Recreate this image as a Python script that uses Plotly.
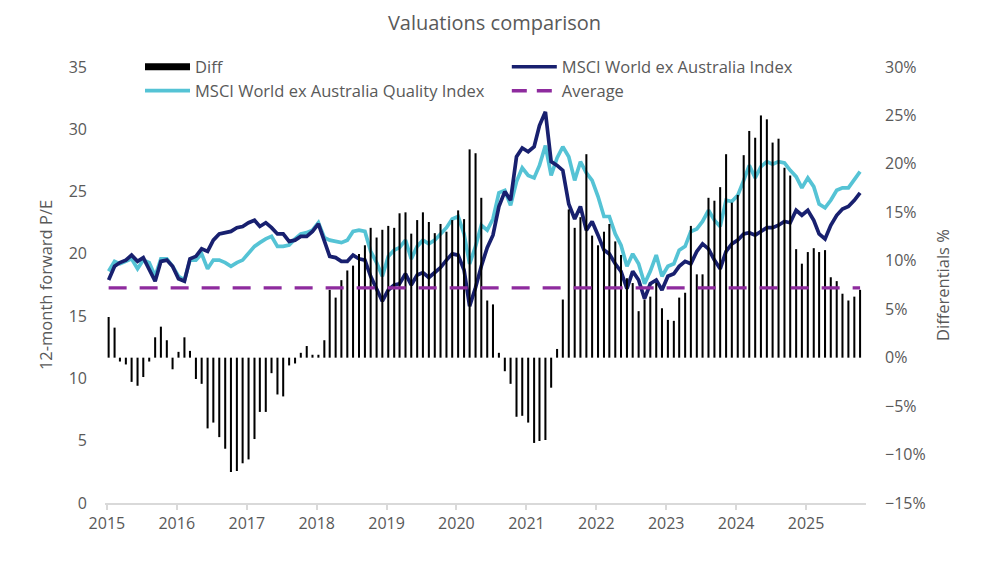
import pandas as pd
import plotly.graph_objects as go

MONTHS = pd.date_range("2015-01-01", periods=130, freq="MS") + pd.Timedelta(days=9)

MSCI_WORLD = [
    17.9, 19.0, 19.3, 19.5, 19.9, 19.4, 19.7, 18.8, 17.8, 19.4, 19.5, 19.0,
    18.0, 17.8, 19.6, 19.8, 20.4, 20.2, 21.1, 21.6, 21.7, 21.8, 22.1, 22.2,
    22.5, 22.7, 22.2, 22.5, 22.1, 21.6, 21.6, 21.0, 21.1, 21.4, 21.4, 21.8,
    22.4, 21.1, 19.8, 19.7, 19.4, 19.4, 19.9, 19.6, 19.5, 18.2, 17.2, 16.2,
    17.1, 17.5, 17.6, 18.4, 17.5, 18.3, 18.5, 18.1, 18.5, 18.9, 19.5, 20.0,
    19.9, 18.7, 15.8, 17.3, 19.0, 20.5, 21.5, 23.8, 25.0, 24.3, 27.8, 28.5,
    28.2, 28.6, 30.3, 31.4, 27.4, 27.1, 26.7, 24.0, 22.8, 23.8, 21.9, 22.6,
    21.5, 20.3, 20.0, 19.2, 18.6, 17.2, 18.6, 17.9, 16.4, 17.6, 17.9, 17.1,
    18.2, 18.4, 19.0, 19.4, 19.2, 20.2, 20.8, 20.4, 19.5, 18.8, 20.2, 20.8,
    21.1, 21.6, 21.7, 21.5, 21.8, 22.1, 22.1, 22.3, 22.6, 22.5, 23.5, 23.1,
    23.5, 22.7, 21.6, 21.2, 22.3, 23.1, 23.6, 23.8, 24.3, 24.9,
]

MSCI_QUALITY = [
    18.6, 19.4, 19.2, 19.4, 19.6, 18.8, 19.5, 19.3, 18.2, 19.6, 19.6, 19.0,
    18.2, 17.9, 19.5, 19.5, 20.0, 18.8, 19.5, 19.5, 19.3, 19.0, 19.3, 19.5,
    20.0, 20.6, 20.9, 21.2, 21.4, 20.6, 20.6, 20.7, 21.2, 21.6, 21.7, 21.9,
    22.5, 21.3, 21.1, 21.0, 20.9, 21.1, 21.8, 21.9, 21.8, 20.2, 19.3, 18.2,
    19.8, 20.3, 20.5, 21.1, 19.6, 20.6, 21.1, 20.8, 21.1, 21.6, 22.1, 22.8,
    23.0, 21.6, 19.2, 20.6, 22.3, 21.9, 22.8, 24.9, 25.1, 23.9, 25.8, 26.9,
    26.3, 26.1, 27.1, 28.7, 26.3, 27.7, 28.6, 27.8, 25.9, 27.4, 26.5, 25.9,
    24.6, 23.0, 23.0, 21.6, 20.7, 19.0, 20.0, 19.2, 17.6, 18.6, 19.9, 18.2,
    19.0, 19.2, 20.3, 20.6, 21.8, 22.0, 22.6, 23.5, 22.7, 22.2, 24.3, 24.2,
    24.7, 25.9, 27.1, 26.1, 27.0, 27.4, 27.2, 27.4, 27.3, 26.7, 26.2, 25.3,
    26.1, 25.4, 24.0, 23.7, 24.3, 25.1, 25.3, 25.3, 25.9, 26.6,
]

DIFF = [
    4.2, 3.1, -0.4, -0.7, -2.5, -2.9, -2.0, -0.4, 2.1, 3.2, 1.8, -1.2,
    0.6, 2.1, 0.7, -2.2, -2.7, -7.3, -6.7, -8.2, -9.4, -11.8, -11.7, -10.9,
    -10.5, -8.4, -5.6, -5.6, -1.6, -3.8, -4.0, -0.8, -0.6, 0.5, 1.2, 0.3,
    0.3, 1.8, 7.0, 6.2, 8.0, 9.0, 9.5, 10.7, 11.6, 13.4, 12.4, 13.2,
    13.6, 13.4, 14.9, 15.0, 12.8, 14.2, 15.0, 14.0, 12.85, 13.8, 13.0, 14.2,
    15.2, 14.3, 21.5, 21.1, 16.5, 5.9, 5.5, 0.5, -1.4, -2.7, -6.1, -6.0,
    -6.7, -8.8, -8.6, -8.5, -3.1, 0.9, 6.0, 15.3, 13.4, 14.5, 21.0, 12.6,
    11.6, 13.0, 13.8, 12.0, 10.6, 8.2, 7.7, 4.8, 6.0, 6.3, 7.7, 5.1,
    3.9, 3.8, 6.2, 6.7, 13.6, 8.6, 8.6, 16.5, 16.2, 17.6, 21.0, 16.0,
    16.8, 20.9, 23.4, 22.7, 25.0, 24.6, 22.2, 22.6, 19.6, 18.8, 11.2, 9.7,
    10.9, 11.3, 10.9, 11.1, 8.3, 7.9, 6.6, 5.9, 6.3, 7.0,
]

AVERAGE = 7.2

YEAR_TICKS = [str(y) for y in range(2015, 2026)]

NAVY = "#18206f"
CYAN = "#55c3d5"
PURPLE = "#8e2b9e"
GREY = "#595959"
FONT = "Open Sans"
LW = 3.7
TICK_SIZE = 16
LABEL_SIZE = 16.5

fig = go.Figure()

fig.add_trace(go.Bar(
    x=MONTHS, y=DIFF, yaxis="y2", marker=dict(color="#000000", line=dict(width=0)),
    name="Diff", showlegend=False,
))
fig.add_trace(go.Scatter(
    x=MONTHS, y=[AVERAGE] * len(MONTHS), yaxis="y2", mode="lines",
    line=dict(color=PURPLE, width=3.4, dash="18px,13px"), showlegend=False, name="Average",
))
fig.add_trace(go.Scatter(
    x=MONTHS, y=MSCI_QUALITY, mode="lines",
    line=dict(color=CYAN, width=LW), showlegend=False, name="MSCI World ex Australia Quality Index",
))
fig.add_trace(go.Scatter(
    x=MONTHS, y=MSCI_WORLD, mode="lines",
    line=dict(color=NAVY, width=LW), showlegend=False, name="MSCI World ex Australia Index",
))

# legend entries, one legend box each so they sit in a 2x2 grid
fig.add_trace(go.Scatter(x=[None], y=[None], mode="lines", name="Diff",
                         line=dict(color="#000000", width=7), legend="legend"))
fig.add_trace(go.Scatter(x=[None], y=[None], mode="lines", name="MSCI World ex Australia Index",
                         line=dict(color=NAVY, width=LW), legend="legend2"))
fig.add_trace(go.Scatter(x=[None], y=[None], mode="lines", name="MSCI World ex Australia Quality Index",
                         line=dict(color=CYAN, width=LW), legend="legend3"))
fig.add_trace(go.Scatter(x=[None], y=[None], mode="lines", name="Average",
                         line=dict(color=PURPLE, width=3.4, dash="15px,10px"), legend="legend4"))

legend_common = dict(
    orientation="h", itemwidth=45,
    font=dict(family=FONT, size=LABEL_SIZE, color=GREY), bgcolor="rgba(0,0,0,0)",
    xanchor="left", yanchor="middle",
)

fig.update_layout(
    width=989, height=568,
    margin=dict(l=105, r=123, t=67, b=65),
    paper_bgcolor="white", plot_bgcolor="white",
    font=dict(family=FONT, size=TICK_SIZE, color=GREY),
    title=dict(text="Valuations comparison", x=0.5, xanchor="center", y=0.96, yanchor="middle",
               font=dict(family=FONT, size=20, color=GREY)),
    bargap=0.62,
    showlegend=True,
    legend=dict(**legend_common, x=0.046, y=1.0),
    legend2=dict(**legend_common, x=0.528, y=1.0),
    legend3=dict(**legend_common, x=0.046, y=0.945),
    legend4=dict(**legend_common, x=0.528, y=0.945),
    xaxis=dict(
        type="date", range=["2014-12-22", "2025-11-10"],
        tickvals=[f"{y}-01-01" for y in YEAR_TICKS], ticktext=YEAR_TICKS,
        showgrid=False, showline=True, linecolor="#d9d9d9", linewidth=1.5,
        ticks="outside", ticklen=5, tickcolor="#d9d9d9", tickwidth=1.5,
        tickfont=dict(family=FONT, size=TICK_SIZE, color=GREY), zeroline=False,
    ),
    yaxis=dict(
        range=[0, 35], dtick=5, showgrid=False, zeroline=False, showline=False,
        ticks="", ticklabelstandoff=17,
        title=dict(text="12-month forward P/E", font=dict(family=FONT, size=LABEL_SIZE, color=GREY), standoff=11),
        tickfont=dict(family=FONT, size=TICK_SIZE, color=GREY),
    ),
    yaxis2=dict(
        range=[-15, 30], dtick=5, ticksuffix="%", overlaying="y", side="right",
        showgrid=False, zeroline=False, showline=False, ticks="", ticklabelstandoff=18,
        title=dict(text="Differentials %", font=dict(family=FONT, size=LABEL_SIZE, color=GREY), standoff=12),
        tickfont=dict(family=FONT, size=TICK_SIZE, color=GREY),
    ),
)

fig.write_html("out.html", config={"displayModeBar": False},
               post_script="document.body.style.margin='0px';")
